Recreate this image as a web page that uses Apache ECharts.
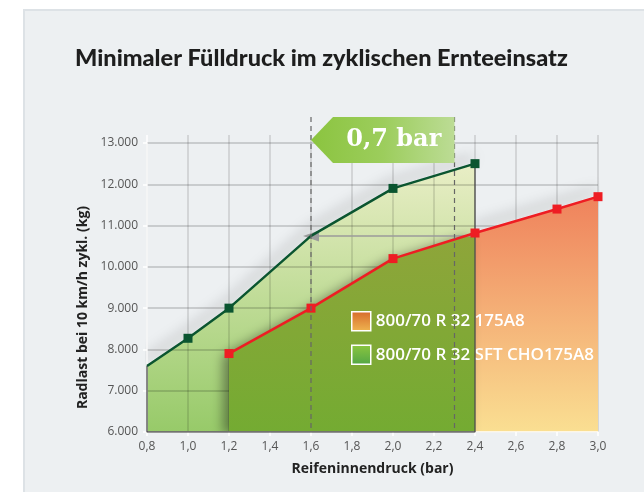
<!DOCTYPE html>
<html>
<head>
<meta charset="utf-8">
<script src="https://cdn.jsdelivr.net/npm/echarts@6/dist/echarts.min.js"></script>
<style>
  html, body { margin: 0; padding: 0; background: #fff; }
  #chart { width: 644px; height: 492px; }
</style>
</head>
<body>
<div id="chart"></div>
<script>
// ---- data ----
const titleText = 'Minimaler Fülldruck im zyklischen Ernteeinsatz';
const xAxisName = 'Reifeninnendruck (bar)';
const yAxisName = 'Radlast bei 10 km/h zykl. (kg)';
const seriesNames = ['800/70 R 32 175A8', '800/70 R 32 SFT CHO175A8'];

const xTicks = [0.8, 1.0, 1.2, 1.4, 1.6, 1.8, 2.0, 2.2, 2.4, 2.6, 2.8, 3.0];
const yTicks = [6000, 7000, 8000, 9000, 10000, 11000, 12000, 13000];

// SFT CHO tyre (green)
const pressureSft = [0.8, 1.0, 1.2, 1.6, 2.0, 2.4];
const loadSft     = [7600, 8270, 9000, 10750, 11900, 12500];
const markerSft   = [false, true, true, false, true, true];

// standard tyre (red)
const pressureStd = [1.2, 1.6, 2.0, 2.4, 2.8, 3.0];
const loadStd     = [7900, 9000, 10200, 10820, 11400, 11700];

// annotation: pressure shift at the same load
const shiftPressures = [1.6, 2.3];
const arrowFromPressure = 2.4;
const arrowLoad = 10750;
const calloutText = '0,7 bar';

// ---- build ----
const chart = echarts.init(document.getElementById('chart'), null, { renderer: 'canvas' });
const yMin = yTicks[0], yMax = yTicks[yTicks.length - 1];
const xMin = xTicks[0], xMax = xTicks[xTicks.length - 1];
const splitX = pressureSft[pressureSft.length - 1];
const panelColor = '#edf0f2';

const grad = (c0, c1) => new echarts.graphic.LinearGradient(0, 0, 0, 1, [
  { offset: 0, color: c0 }, { offset: 1, color: c1 }]);

const sftData = pressureSft.map((x, i) => ({ value: [x, loadSft[i]], symbol: markerSft[i] ? 'rect' : 'none' }));
const sftPlain = pressureSft.map((x, i) => [x, loadSft[i]]);
const stdData = pressureStd.map((x, i) => [x, loadStd[i]]);
const stdLeft = stdData.filter(d => d[0] <= splitX);
const stdRight = stdData.filter(d => d[0] >= splitX);
const outline = [
  [pressureSft[0], loadSft[0]],
  [pressureSft[0], yMin],
  [splitX, yMin],
  [splitX, loadSft[loadSft.length - 1]]
];

const fmtX = v => v.toFixed(1).replace('.', ',');
const fmtY = v => String(v).replace(/\B(?=(\d{3})+(?!\d))/g, '.');

// haze series: background-coloured stroke whose blurred shadow falls above the curve,
// drawn on a layer beneath the opaque areas
const haze = (name, data) => ({
  name, type: 'line', data, zlevel: -1, z: 1,
  symbol: 'none',
  lineStyle: { color: panelColor, width: 3, shadowColor: 'rgba(0,0,0,0.38)', shadowBlur: 14, shadowOffsetX: -2, shadowOffsetY: -6 },
  emphasis: { disabled: true }, silent: true
});

const option = {
  animation: false,
  backgroundColor: '#ffffff',
  title: {
    text: titleText,
    left: 70, top: 41, padding: 5,
    textStyle: { fontFamily: 'Lato', fontWeight: 900, fontSize: 23.5, color: '#1e1e1e' }
  },
  legend: {
    left: 351, top: 311, orient: 'vertical', padding: 0,
    itemWidth: 19, itemHeight: 19, itemGap: 13,
    selectedMode: false,
    textStyle: { color: '#ffffff', fontFamily: 'Open Sans', fontWeight: 600, fontSize: 17, lineHeight: 19 },
    data: [
      { name: seriesNames[0], icon: 'rect',
        itemStyle: { color: grad('#d66a2c', '#efb550'), borderColor: '#fff', borderWidth: 1.5 } },
      { name: seriesNames[1], icon: 'rect',
        itemStyle: { color: grad('#8cc63f', '#52a646'), borderColor: '#fff', borderWidth: 1.5 } }
    ]
  },
  grid: { left: 147, right: 46, top: 143, bottom: 60, containLabel: false },
  xAxis: {
    type: 'value', min: xMin, max: xMax, interval: 0.2, z: 3,
    name: xAxisName, nameLocation: 'middle', nameGap: 30,
    nameTextStyle: { fontFamily: 'Open Sans', fontWeight: 'bold', fontSize: 14, color: '#222' },
    axisLine: { show: true, lineStyle: { color: '#ffffff', width: 1.5 } },
    axisTick: { show: true, length: 4, lineStyle: { color: '#ffffff', width: 1.5 } },
    axisLabel: { formatter: fmtX, color: '#555', fontFamily: 'Open Sans', fontSize: 12, margin: 9 },
    splitLine: { show: true, lineStyle: { color: 'rgba(0,0,0,0.15)', width: 1.5 } }
  },
  yAxis: {
    type: 'value', min: yMin, max: yMax, interval: 1000, z: 3,
    name: yAxisName, nameLocation: 'middle', nameGap: 54, nameRotate: 90,
    nameTextStyle: { fontFamily: 'Open Sans', fontWeight: 'bold', fontSize: 14, color: '#222', padding: [0, 40, 0, 0] },
    axisLine: { show: true, lineStyle: { color: '#ffffff', width: 1.5 } },
    axisTick: { show: true, length: 4, lineStyle: { color: '#ffffff', width: 1.5 } },
    axisLabel: { formatter: fmtY, color: '#555', fontFamily: 'Open Sans', fontSize: 12, margin: 9 },
    splitLine: { show: true, lineStyle: { color: 'rgba(0,0,0,0.2)', width: 1.5 } }
  },
  series: [
    haze('sftHaze', sftPlain),
    haze('stdHaze', stdRight),
    {
      name: seriesNames[1], type: 'line', data: sftPlain, z: 2,
      symbol: 'none', lineStyle: { opacity: 0 },
      areaStyle: { color: grad('#e9eec6', '#97ca69'), opacity: 1 },
      emphasis: { disabled: true }, silent: true
    },
    {
      name: 'stdRightArea', type: 'line', data: stdRight, z: 3,
      symbol: 'none', lineStyle: { opacity: 0 },
      areaStyle: { color: grad('#ef825c', '#fadf92'), opacity: 1 },
      emphasis: { disabled: true }, silent: true
    },
    {
      name: 'stdLeftArea', type: 'line', data: stdLeft, z: 3,
      symbol: 'none', lineStyle: { opacity: 0 },
      areaStyle: { color: grad('#8fa53a', '#74ab32'), opacity: 1,
        shadowColor: 'rgba(0,0,0,0.4)', shadowBlur: 12, shadowOffsetX: -6, shadowOffsetY: 2 },
      emphasis: { disabled: true }, silent: true
    },
    {
      name: 'outline', type: 'line', data: outline, z: 4,
      symbol: 'none', lineStyle: { color: '#4d4d4d', width: 1.3 },
      emphasis: { disabled: true }, silent: true
    },
    {
      name: seriesNames[0], type: 'line', data: stdData, z: 5,
      symbol: 'rect', symbolSize: 9,
      lineStyle: { color: '#ee1d23', width: 2.5 },
      itemStyle: { color: '#ee1d23' },
      emphasis: { disabled: true }, silent: true,
      markLine: {
        silent: true, animation: false,
        symbol: ['none', 'triangle'], symbolSize: [11, 16],
        label: { show: false },
        lineStyle: { color: '#9b9b9b', width: 1.5, type: 'solid' },
        data: [[{ coord: [arrowFromPressure, arrowLoad] }, { coord: [shiftPressures[0], arrowLoad] }]]
      }
    },
    {
      name: seriesNames[1] + ' line', type: 'line', data: sftData, z: 5,
      symbolSize: 9, showAllSymbol: true,
      lineStyle: { color: '#0b5530', width: 2.5 },
      itemStyle: { color: '#0b5530' },
      emphasis: { disabled: true }, silent: true
    }
  ]
};
chart.setOption(option);

// ---- annotations positioned through the axes ----
const px = x => chart.convertToPixel({ gridIndex: 0 }, [x, yMin])[0];
const py = y => chart.convertToPixel({ gridIndex: 0 }, [xMin, y])[1];
const yTop = py(yMax), yBot = py(yMin);
const cTop = yTop - 26, cBot = yTop + 20, cMid = (cTop + cBot) / 2;
const xa = px(shiftPressures[0]), xb = px(shiftPressures[1]);
const notch = 22;

const graphics = [
  { type: 'rect', zlevel: -2, z: -100, shape: { x: 24, y: 10, width: 640, height: 500 },
    style: { fill: panelColor, stroke: '#dde2e6', lineWidth: 2 } }
];
xTicks.forEach((t, i) => {
  graphics.push({ type: 'line', z: 1, shape: { x1: px(t), y1: yTop - 8, x2: px(t), y2: yTop },
    style: { stroke: i === 0 ? '#ffffff' : 'rgba(0,0,0,0.15)', lineWidth: 1.5 } });
});
shiftPressures.forEach(p => {
  graphics.push({ type: 'line', z: 50, shape: { x1: px(p), y1: cTop, x2: px(p), y2: yBot },
    style: { stroke: '#666', lineWidth: 1.2, lineDash: [5, 4] } });
});
graphics.push({
  type: 'polygon', z: 60,
  shape: { points: [[xa, cMid], [xa + notch, cTop], [xb, cTop], [xb, cBot], [xa + notch, cBot]] },
  style: { fill: new echarts.graphic.LinearGradient(0, 0, 1, 0, [
    { offset: 0, color: '#8bc43f' }, { offset: 0.5, color: '#9ccd5c' }, { offset: 1, color: '#bcdc95' }]) }
});
graphics.push({
  type: 'text', z: 61,
  style: { x: (xa + notch + xb) / 2, y: cMid, text: calloutText, align: 'center', verticalAlign: 'middle',
    fill: '#ffffff', fontFamily: 'DejaVu Serif', fontWeight: 'bold', fontSize: 24 }
});
chart.setOption({ graphic: graphics });
</script>
</body>
</html>
